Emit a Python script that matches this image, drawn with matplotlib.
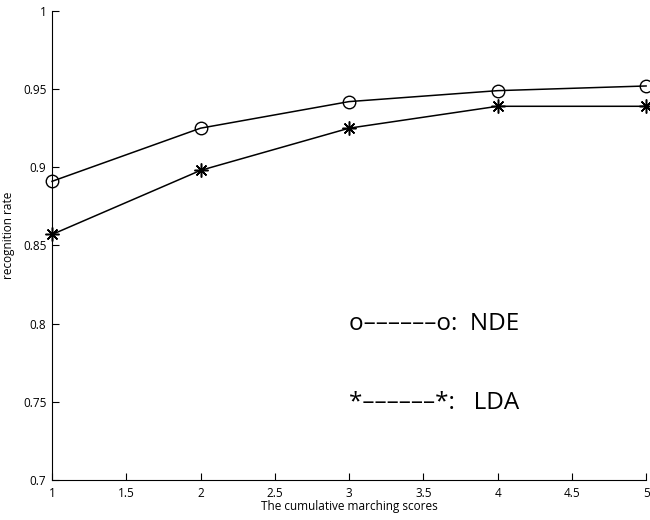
import matplotlib
matplotlib.use("Agg")
import matplotlib.pyplot as plt

plt.rcParams['font.family'] = ['Open Sans', 'DejaVu Sans']

x = [1, 2, 3, 4, 5]
nde = [0.891, 0.925, 0.942, 0.949, 0.952]
lda = [0.857, 0.898, 0.925, 0.939, 0.939]
xticks = [1, 1.5, 2, 2.5, 3, 3.5, 4, 4.5, 5]
xticklabels = ['1', '1.5', '2', '2.5', '3', '3.5', '4', '4.5', '5']
yticks = [0.7, 0.75, 0.8, 0.85, 0.9, 0.95, 1]
yticklabels = ['0.7', '0.75', '0.8', '0.85', '0.9', '0.95', '1']

fig = plt.figure(figsize=(6.5, 5.2), dpi=100)
ax = fig.add_axes([0.08, 0.077, 0.914, 0.902])
ax.plot(x, nde, color='black', lw=1.1, marker='o', markersize=9,
        markerfacecolor='none', markeredgecolor='black', markeredgewidth=1.0,
        clip_on=False)
ax.plot(x, lda, color='black', lw=1.1, marker=(8, 2, 0), markersize=10,
        markeredgecolor='black', markeredgewidth=1.1, clip_on=False)
ax.set_xlim(1, 5)
ax.set_ylim(0.7, 1)
ax.set_xticks(xticks)
ax.set_xticklabels(xticklabels)
ax.set_yticks(yticks)
ax.set_yticklabels(yticklabels)
ax.spines['top'].set_visible(False)
ax.spines['right'].set_visible(False)
ax.tick_params(direction='in', length=5, width=0.8, labelsize=8.5)
ax.tick_params(axis='x', pad=5)
ax.tick_params(axis='y', pad=4)
ax.set_xlabel('The cumulative marching scores', fontsize=8.5, labelpad=0)
ax.set_ylabel('recognition rate', fontsize=8.5)
ax.yaxis.set_label_coords(-0.063, 0.522)
ax.text(3.0, 0.7995, 'o––––––o:  NDE', fontsize=17.5, va='center', ha='left')
ax.text(3.0, 0.7495, '*––––––*:   LDA', fontsize=17.5, va='center', ha='left')
fig.savefig('out.png', dpi=100)
